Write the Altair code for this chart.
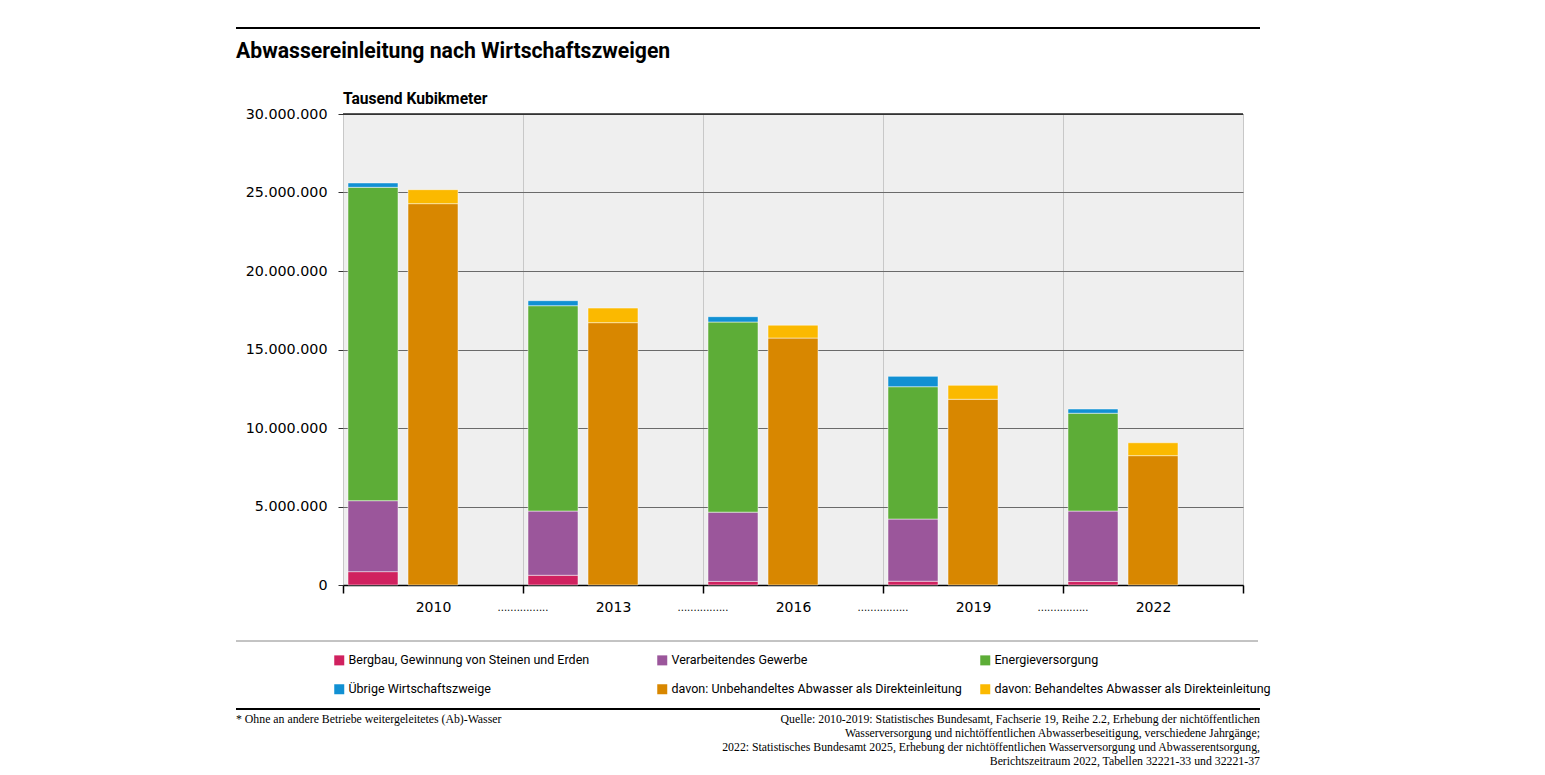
import altair as alt
import pandas as pd

years = ["2010", "2013", "2016", "2019", "2022"]
# Tausend Kubikmeter
bergbau = [850000, 620000, 230000, 240000, 220000]
verarbeitend = [4520000, 4090000, 4410000, 3960000, 4490000]
energie = [19960000, 13080000, 12110000, 8430000, 6230000]
uebrige = [280000, 320000, 340000, 660000, 270000]
unbehandelt = [24290000, 16710000, 15730000, 11830000, 8240000]
behandelt = [890000, 930000, 820000, 890000, 820000]

categories = [
    "Bergbau, Gewinnung von Steinen und Erden",
    "Verarbeitendes Gewerbe",
    "Energieversorgung",
    "Übrige Wirtschaftszweige",
    "davon: Unbehandeltes Abwasser als Direkteinleitung",
    "davon: Behandeltes Abwasser als Direkteinleitung",
]
colors = ["#d0215f", "#9b569b", "#5dad37", "#1190d3", "#d88700", "#fbb900"]
groups = ["Wirtschaftszweige", "Direkteinleitung", "leer"]

series = [
    (categories[0], groups[0], bergbau),
    (categories[1], groups[0], verarbeitend),
    (categories[2], groups[0], energie),
    (categories[3], groups[0], uebrige),
    (categories[4], groups[1], unbehandelt),
    (categories[5], groups[1], behandelt),
]
rows = []
for k, (cat, grp, vals) in enumerate(series):
    for y, v in zip(years, vals):
        rows.append({"jahr": y, "gruppe": grp, "kategorie": cat, "wert": v, "ord": k})
df = pd.DataFrame(rows)

FONT_AX = "DejaVu Sans"
FONT_TX = "Roboto"
FONT_FN = "Liberation Serif"

x_scale = alt.Scale(domain=years, paddingInner=0, paddingOuter=0)

one = pd.DataFrame({"a": [0]})

bars = alt.Chart(df).transform_stack(
    stack="wert", groupby=["jahr", "gruppe"], sort=[alt.SortField("ord")], as_=["y0", "y1"]
).mark_bar(stroke="white", strokeWidth=0.7, strokeOpacity=0.7).encode(
    x=alt.X("jahr:N", scale=x_scale, title=None,
            axis=alt.Axis(tickBand="extent", grid=True, gridColor="#c8c8c8", gridWidth=1,
                          domainColor="#000000", domainWidth=1.5, tickColor="#000000",
                          tickWidth=1.5, tickSize=8, labelPadding=7, labelFont=FONT_AX,
                          labelFontSize=14, labelColor="#000000", labelAngle=0)),
    xOffset=alt.XOffset("gruppe:N", scale=alt.Scale(domain=groups, paddingInner=1/6, paddingOuter=1/12)),
    y=alt.Y("y0:Q", scale=alt.Scale(domain=[0, 30000000], nice=False), title=None,
            axis=alt.Axis(values=[0, 5000000, 10000000, 15000000, 20000000, 25000000, 30000000],
                          labelExpr="replace(replace(replace(format(datum.value, ',d'), ',', '.'), ',', '.'), ',', '.')",
                          grid=True, gridColor="#6a6a6a", gridWidth=1.2, domain=False,
                          tickColor="#333333", tickSize=5, labelPadding=11, labelFont=FONT_AX,
                          labelFontSize=14.3, labelColor="#000000")),
    y2="y1:Q",
    color=alt.Color("kategorie:N", scale=alt.Scale(domain=categories, range=colors),
                    legend=alt.Legend(title=None, orient="none", legendX=-10, legendY=540,
                                      columns=3, direction="horizontal", gridAlign="all",
                                      columnPadding=17, rowPadding=16,
                                      symbolType="square", symbolSize=100, symbolStrokeWidth=0,
                                      labelFont=FONT_TX, labelFontSize=12.5, labelColor="#000000",
                                      labelOffset=3, labelLimit=500)),
)

sep_df = pd.DataFrame({"jahr": years[:-1]})
dots = alt.Chart(sep_df).mark_text(text="................", font=FONT_AX, fontSize=10,
                                    baseline="alphabetic", color="#000000").encode(
    x=alt.X("jahr:N", scale=x_scale, bandPosition=1),
    y=alt.value(497),
)

def hline(y, x1, x2, color, w):
    return alt.Chart(one).mark_rule(color=color, strokeWidth=w).encode(
        x=alt.value(x1), x2=alt.value(x2), y=alt.value(y))

def label(txt, x, y, size, font, weight="normal", align="left"):
    return alt.Chart(one).mark_text(text=txt, fontSize=size, font=font, fontWeight=weight,
                                    align=align, baseline="alphabetic", color="#000000").encode(
        x=alt.value(x), y=alt.value(y))

deco = [
    hline(-86, -107, 917, "#000000", 2),
    label("Abwassereinleitung nach Wirtschaftszweigen", -107, -56, 21.2, FONT_TX, "bold"),
    label("Tausend Kubikmeter", 0, -10, 15.6, FONT_TX, "bold"),
    hline(0, 0, 900, "#222222", 1.3),
    hline(527, -107, 915, "#888888", 1),
    hline(595, -107, 917, "#000000", 2),
    label("* Ohne an andere Betriebe weitergeleitetes (Ab)-Wasser", -107, 609, 11.8, FONT_FN),
    label("Quelle: 2010-2019: Statistisches Bundesamt, Fachserie 19, Reihe 2.2, Erhebung der nichtöffentlichen",
          917, 609, 11.8, FONT_FN, align="right"),
    label("Wasserversorgung und nichtöffentlichen Abwasserbeseitigung, verschiedene Jahrgänge;",
          917, 623, 11.8, FONT_FN, align="right"),
    label("2022: Statistisches Bundesamt 2025, Erhebung der nichtöffentlichen Wasserversorgung und Abwasserentsorgung,",
          917, 637, 11.8, FONT_FN, align="right"),
    label("Berichtszeitraum 2022, Tabellen 32221-33 und 32221-37",
          917, 651, 11.8, FONT_FN, align="right"),
]

chart = alt.layer(bars, dots, *deco).properties(
    width=900, height=471,
    padding={"left": 335, "top": 106, "right": 290, "bottom": 190},
    autosize=alt.AutoSizeParams(type="none"),
).configure_view(fill="#efefef", strokeWidth=0)

chart.save("out.html", embed_options={"renderer": "svg", "actions": False})
